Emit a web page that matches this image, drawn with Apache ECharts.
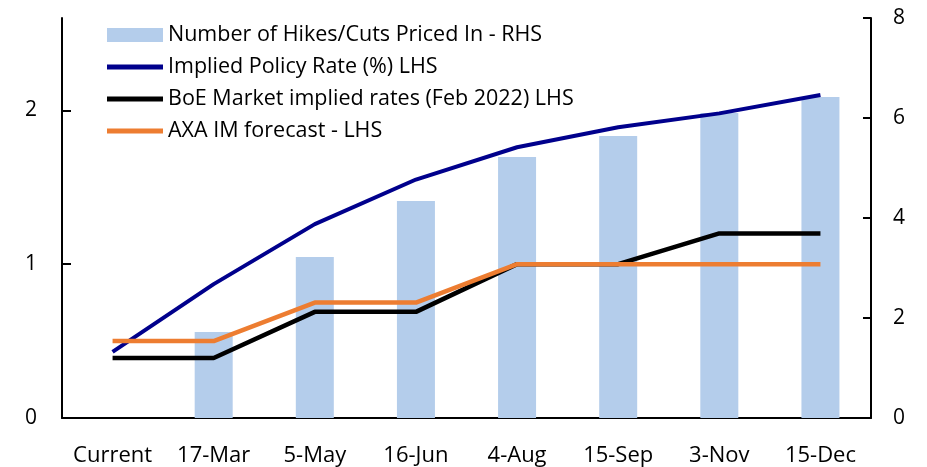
<!DOCTYPE html>
<html lang="en">
<head>
<meta charset="utf-8"/>
<title>Implied policy rate</title>
<script src="https://cdn.jsdelivr.net/npm/echarts@6/dist/echarts.min.js"></script>
<style>
  html, body { margin: 0; padding: 0; background: #fff; }
  #chart { width: 927px; height: 467px; }
</style>
</head>
<body>
<div id="chart"></div>
<script>
// categories and series
var dates = ['Current', '17-Mar', '5-May', '16-Jun', '4-Aug', '15-Sep', '3-Nov', '15-Dec'];
var hikesPriced = [0, 1.72, 3.22, 4.34, 5.22, 5.64, 6.1, 6.42];      // RHS
var impliedRate = [0.43, 0.87, 1.26, 1.55, 1.76, 1.89, 1.98, 2.10];  // LHS
var boeFeb2022 = [0.39, 0.39, 0.69, 0.69, 1.0, 1.0, 1.2, 1.2];       // LHS
var axaForecast = [0.5, 0.5, 0.75, 0.75, 1.0, 1.0, 1.0, 1.0];        // LHS
var leftTicks = [0, 1, 2];
var rightTicks = [0, 2, 4, 6, 8];

var font = 'Open Sans';
var lineIcon = 'path://M0,0h112v10h-112z';   // thick short line for the legend
var chart = echarts.init(document.getElementById('chart'));

var option = {
    animation: false,
    grid: { left: 62, right: 56, top: 18, bottom: 49 },
    legend: {
        orient: 'vertical',
        left: 102,
        top: 19,
        itemWidth: 56,
        itemHeight: 14,
        itemGap: 10,
        textStyle: { fontFamily: font, fontSize: 21.5, color: '#000' },
        data: [
            { name: 'Number of Hikes/Cuts Priced In - RHS', icon: 'rect' },
            { name: 'Implied Policy Rate (%) LHS', icon: lineIcon },
            { name: 'BoE Market implied rates (Feb 2022) LHS', icon: lineIcon },
            { name: 'AXA IM forecast - LHS', icon: lineIcon }
        ]
    },
    xAxis: {
        type: 'category',
        data: dates,
        boundaryGap: true,
        axisLine: { lineStyle: { color: '#000', width: 2 } },
        axisTick: { show: false },
        axisLabel: { fontFamily: font, fontSize: 22, color: '#000', margin: 27, interval: 0 }
    },
    yAxis: [
        {
            type: 'value',
            min: 0, max: 2.6,
            position: 'left',
            splitLine: { show: false },
            axisLine: { show: true, lineStyle: { color: '#000', width: 2 } },
            axisTick: { show: true, inside: true, length: 9, customValues: leftTicks,
                        lineStyle: { color: '#000', width: 2 } },
            axisLabel: { fontFamily: font, fontSize: 21, color: '#000', margin: 25,
                         customValues: leftTicks }
        },
        {
            type: 'value',
            min: 0, max: 8,
            position: 'right',
            splitLine: { show: false },
            axisLine: { show: true, lineStyle: { color: '#000', width: 2 } },
            axisTick: { show: true, inside: true, length: 8, customValues: rightTicks,
                        lineStyle: { color: '#000', width: 2 } },
            axisLabel: { fontFamily: font, fontSize: 21, color: '#000', margin: 22,
                         customValues: rightTicks }
        }
    ],
    series: [
        {
            name: 'Number of Hikes/Cuts Priced In - RHS',
            type: 'bar',
            yAxisIndex: 1,
            barWidth: 38,
            itemStyle: { color: '#B4CDEB' },
            data: hikesPriced
        },
        {
            name: 'Implied Policy Rate (%) LHS',
            type: 'line',
            symbol: 'none',
            lineStyle: { color: '#00008C', width: 4 },
            itemStyle: { color: '#00008C' },
            data: impliedRate
        },
        {
            name: 'BoE Market implied rates (Feb 2022) LHS',
            type: 'line',
            symbol: 'none',
            lineStyle: { color: '#000', width: 4.5 },
            itemStyle: { color: '#000' },
            data: boeFeb2022
        },
        {
            name: 'AXA IM forecast - LHS',
            type: 'line',
            symbol: 'none',
            lineStyle: { color: '#ED7D31', width: 4.5 },
            itemStyle: { color: '#ED7D31' },
            data: axaForecast
        }
    ]
};

chart.setOption(option);
</script>
</body>
</html>
